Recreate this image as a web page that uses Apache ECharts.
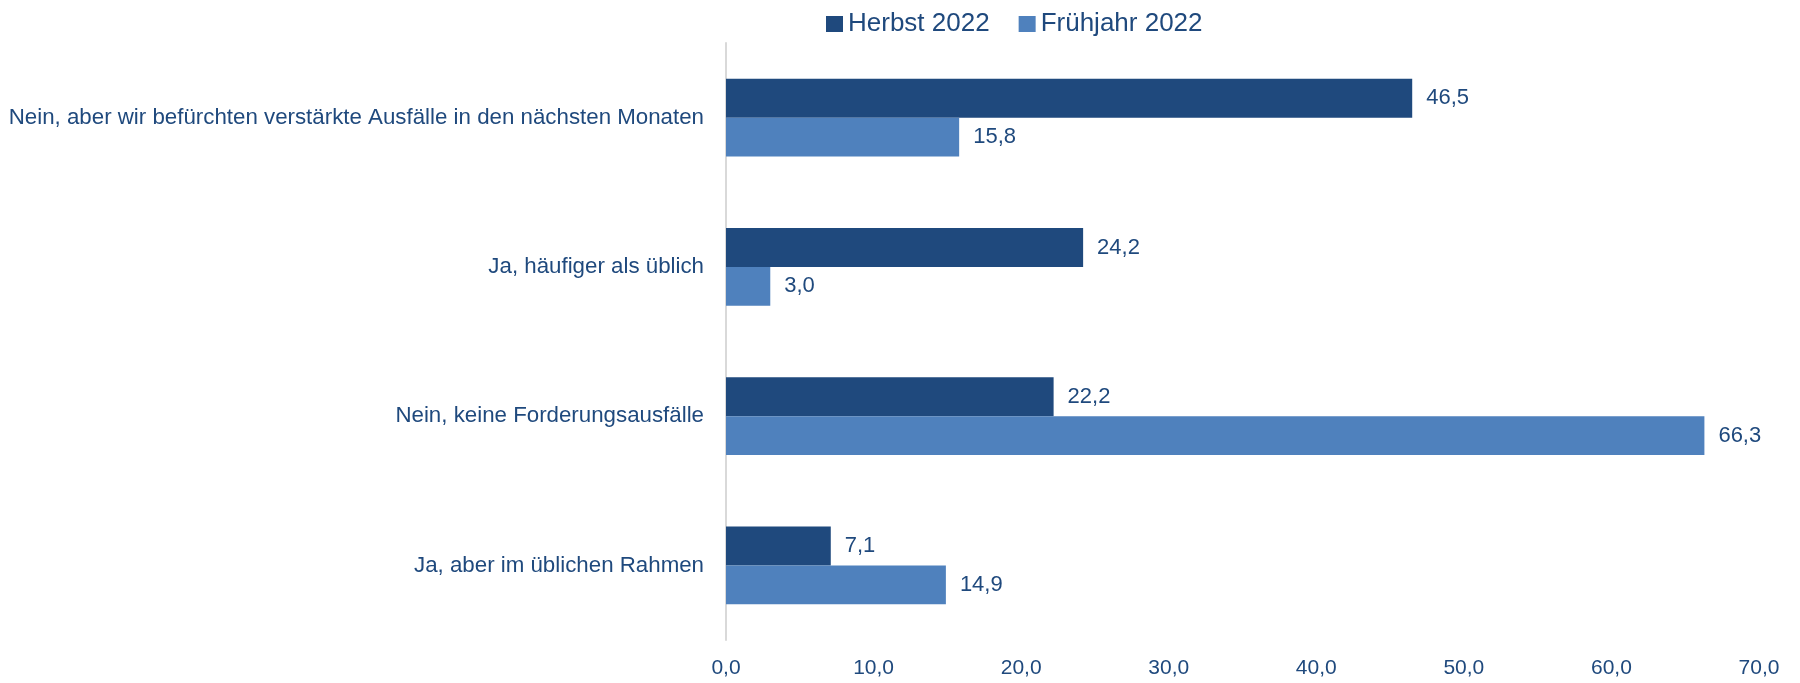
<!DOCTYPE html>
<html>
<head>
<meta charset="utf-8">
<script src="https://cdn.jsdelivr.net/npm/echarts@6/dist/echarts.min.js"></script>
<style>
  html, body { margin: 0; padding: 0; background: #fff; }
  #chart { width: 1800px; height: 683px; }
</style>
</head>
<body>
<div id="chart"></div>
<script>
// Kategorien (von oben nach unten)
var categories = [
  'Nein, aber wir befürchten verstärkte Ausfälle in den nächsten Monaten',
  'Ja, häufiger als üblich',
  'Nein, keine Forderungsausfälle',
  'Ja, aber im üblichen Rahmen'
];
var herbst2022 = [46.5, 24.2, 22.2, 7.1];
var fruehjahr2022 = [15.8, 3.0, 66.3, 14.9];

var textColor = '#1F497D';
var fontName = 'Liberation Sans';

function komma(v) {
  return Number(v).toFixed(1).replace('.', ',');
}

var chart = echarts.init(document.getElementById('chart'));
chart.setOption({
  animation: false,
  textStyle: { fontFamily: fontName },
  legend: {
    left: 821,
    top: 6,
    itemWidth: 17,
    itemHeight: 16,
    itemGap: 29,
    icon: 'rect',
    textStyle: { fontSize: 26, color: textColor, fontFamily: fontName },
    data: ['Herbst 2022', 'Frühjahr 2022']
  },
  grid: { left: 726, right: 41, top: 43, bottom: 43, containLabel: false },
  xAxis: {
    type: 'value',
    min: 0,
    max: 70,
    interval: 10,
    axisLine: { show: false },
    axisTick: { show: false },
    splitLine: { show: false },
    axisLabel: {
      fontSize: 21,
      color: textColor,
      margin: 18,
      formatter: function (v) { return komma(v); }
    }
  },
  yAxis: {
    type: 'category',
    inverse: true,
    data: categories,
    axisLine: { show: true, lineStyle: { color: '#D9D9D9', width: 2 } },
    axisTick: { show: false },
    axisLabel: { fontSize: 22.3, color: textColor, margin: 22 }
  },
  series: [
    {
      name: 'Herbst 2022',
      type: 'bar',
      data: herbst2022,
      barGap: '0%',
      barCategoryGap: '48%',
      itemStyle: { color: '#1F497D' },
      label: {
        show: true,
        position: 'right',
        distance: 14,
        fontSize: 22,
        color: textColor,
        formatter: function (p) { return komma(p.value); }
      }
    },
    {
      name: 'Frühjahr 2022',
      type: 'bar',
      data: fruehjahr2022,
      barGap: '0%',
      barCategoryGap: '48%',
      itemStyle: { color: '#4F81BD' },
      label: {
        show: true,
        position: 'right',
        distance: 14,
        fontSize: 22,
        color: textColor,
        formatter: function (p) { return komma(p.value); }
      }
    }
  ]
});
</script>
</body>
</html>
